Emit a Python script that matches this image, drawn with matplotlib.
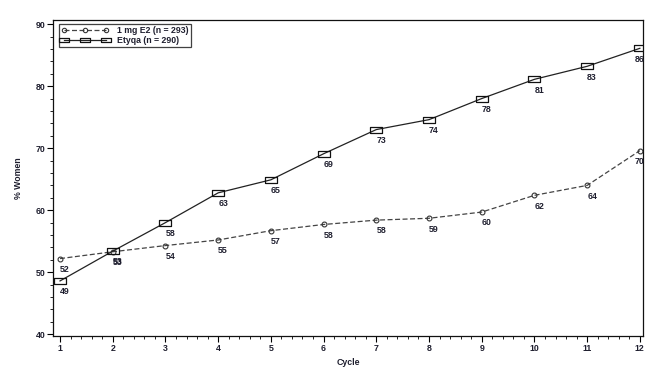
import matplotlib
matplotlib.use("Agg")
import matplotlib.pyplot as plt
from matplotlib.ticker import MultipleLocator
from matplotlib import font_manager

cycles = [1, 2, 3, 4, 5, 6, 7, 8, 9, 10, 11, 12]
e2_values = [52, 53, 54, 55, 57, 58, 58, 59, 60, 62, 64, 70]
e2_plot = [52.2, 53.3, 54.3, 55.2, 56.7, 57.7, 58.4, 58.7, 59.7, 62.4, 64.0, 69.6]
etyqa_values = [49, 53, 58, 63, 65, 69, 73, 74, 78, 81, 83, 86]
etyqa_plot = [48.6, 53.4, 58.0, 62.8, 64.9, 69.1, 73.0, 74.6, 78.0, 81.1, 83.2, 86.1]
series_labels = ["1 mg E2 (n = 293)", "Etyqa (n = 290)"]

names = {f.name for f in font_manager.fontManager.ttflist}
if "DejaVu Sans Condensed" in names:
    fam = ["DejaVu Sans Condensed", "DejaVu Sans"]
    fs = 6.5
else:
    fam = ["Liberation Sans", "DejaVu Sans"]
    fs = 6.3

txt = "#1e1e2e"

fig = plt.figure(figsize=(6.61, 3.71), dpi=100)
ax = fig.add_axes([0.0802, 0.094, 0.8926, 0.851])

rect = [(-2.2, -1), (2.2, -1), (2.2, 1), (-2.2, 1), (-2.2, -1)]

ax.plot(cycles, e2_plot, color="#444444", lw=0.9, ls=(0, (4, 2)), marker="o",
        ms=3.5, mfc="none", mec="#333333", mew=0.8, label=series_labels[0])
ax.plot(cycles, etyqa_plot, color="#222222", lw=0.9, ls="-", marker=rect,
        ms=8.5, mfc="none", mec="#111111", mew=0.9, label=series_labels[1])

for x, yp, v in zip(cycles, e2_plot, e2_values):
    ax.annotate(str(v), (x, yp), xytext=(0, -4.5), textcoords="offset points",
                ha="left" if x != 12 else "center", va="top", fontsize=fs,
                fontweight="bold", color=txt, family=fam)
for x, yp, v in zip(cycles, etyqa_plot, etyqa_values):
    ax.annotate(str(v), (x, yp), xytext=(0, -4.5), textcoords="offset points",
                ha="left" if x != 12 else "center", va="top", fontsize=fs,
                fontweight="bold", color=txt, family=fam)

ax.set_xlim(0.867, 12.06)
ax.set_ylim(39.7, 90.6)
ax.xaxis.set_major_locator(MultipleLocator(1))
ax.xaxis.set_minor_locator(MultipleLocator(0.2))
ax.yaxis.set_major_locator(MultipleLocator(10))
ax.yaxis.set_minor_locator(MultipleLocator(2))
ax.set_yticks([40, 50, 60, 70, 80, 90])
ax.set_xticks(cycles)
ax.tick_params(axis="both", which="major", length=4, width=0.8, labelsize=fs,
               labelcolor=txt, pad=1.5)
ax.tick_params(axis="both", which="minor", length=2, width=0.6)
ax.tick_params(top=False, right=False)
for lab in ax.get_xticklabels() + ax.get_yticklabels():
    lab.set_fontweight("bold")
    lab.set_family(fam)
for s in ax.spines.values():
    s.set_linewidth(0.9)
    s.set_color("#111111")

ax.set_xlabel("Cycle", fontsize=fs, fontweight="bold", color=txt, family=fam, labelpad=4)
ax.set_ylabel("% Women", fontsize=fs, fontweight="bold", color=txt, family=fam, labelpad=9)

leg = ax.legend(loc="upper left", bbox_to_anchor=(0.01, 0.99), fontsize=fs,
                frameon=True, fancybox=False, edgecolor="#111111",
                handlelength=5.4, numpoints=3, markerscale=0.9,
                borderpad=0.3, labelspacing=0.05,
                handletextpad=0.9, borderaxespad=0)
leg.get_frame().set_linewidth(0.9)
for t in leg.get_texts():
    t.set_fontweight("bold")
    t.set_color(txt)
    t.set_family(fam)

fig.savefig("out.png", dpi=100)
